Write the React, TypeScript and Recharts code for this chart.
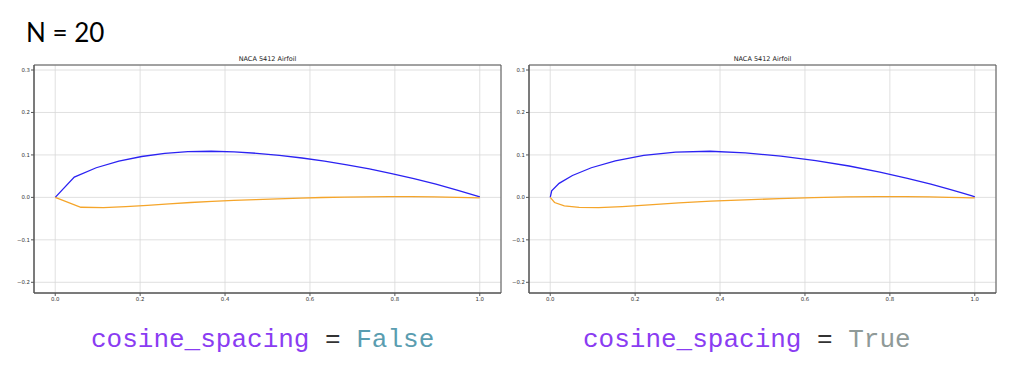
import { LineChart, Line, XAxis, YAxis, CartesianGrid, ReferenceArea } from "recharts";

// NACA 5412, N = 20 points per surface
const uniformUpper = [
  [0, 0], [0.0449, 0.0478], [0.0966, 0.0698], [0.1498, 0.0853], [0.2037, 0.0963],
  [0.2581, 0.1036], [0.3126, 0.1077], [0.3673, 0.1087], [0.4214, 0.1071], [0.4748, 0.1038],
  [0.5281, 0.099], [0.5813, 0.0928], [0.6343, 0.0854], [0.6872, 0.0768], [0.7399, 0.0671],
  [0.7924, 0.0562], [0.8447, 0.0441], [0.8968, 0.031], [0.9486, 0.0167], [1.0002, 0.0012],
];
const uniformLower = [
  [0, 0], [0.0603, -0.0232], [0.1139, -0.0241], [0.166, -0.0219], [0.2173, -0.0188],
  [0.2682, -0.0153], [0.3189, -0.0121], [0.3696, -0.0093], [0.4207, -0.0072], [0.4726, -0.0053],
  [0.5245, -0.0034], [0.5766, -0.0017], [0.6288, -0.0003], [0.6812, 0.0007], [0.7338, 0.0014],
  [0.7865, 0.0017], [0.8395, 0.0016], [0.8927, 0.001], [0.9461, 0.0001], [0.9998, -0.0012],
];
const cosineUpper = [
  [0, 0], [0.0034, 0.0155], [0.0209, 0.033], [0.0523, 0.0515], [0.0968, 0.0698],
  [0.1533, 0.0861], [0.2202, 0.0989], [0.2954, 0.1067], [0.3764, 0.1086], [0.4596, 0.1049],
  [0.5433, 0.0973], [0.6254, 0.0867], [0.7039, 0.0739], [0.7765, 0.0596], [0.8413, 0.045],
  [0.8966, 0.031], [0.9411, 0.0188], [0.9737, 0.0093], [0.9935, 0.0033], [1.0002, 0.0012],
];
const cosineLower = [
  [0, 0], [0.0102, -0.0121], [0.0332, -0.0199], [0.0682, -0.0237], [0.1141, -0.024],
  [0.1694, -0.0217], [0.2328, -0.0177], [0.3029, -0.0131], [0.3781, -0.009], [0.4578, -0.0058],
  [0.5393, -0.0029], [0.62, -0.0005], [0.6978, 0.001], [0.7705, 0.0017], [0.836, 0.0016],
  [0.8925, 0.001], [0.9383, 0.0002], [0.9721, -0.0005], [0.9928, -0.0011], [0.9998, -0.0012],
];

const xTicks = [0, 0.2, 0.4, 0.6, 0.8, 1.0];
const yTicks = [-0.2, -0.1, 0, 0.1, 0.2, 0.3];
const xDomain = [-0.05, 1.05];
const yDomain = [-0.2252, 0.3118];

const title = "NACA 5412 Airfoil";

const toPts = (arr: number[][]) => arr.map(([x, y]) => ({ x, y }));
const fmt = (v: number) => (v < 0 ? "\u2212" : "") + Math.abs(v).toFixed(1);

const tickStyle = { fontSize: 5.4, fill: "#333", fontFamily: "DejaVu Sans" };

interface plotProps {
  upper: number[][];
  lower: number[][];
  left: number;
}

const AirfoilPlot = ({ upper, lower, left }: plotProps) => {
  return (
    <div style={{ position: "absolute", left, top: 0, width: 510, height: 310 }}>
      <div
        style={{
          position: "absolute", left: 34, width: 467, top: 55, textAlign: "center",
          fontFamily: "DejaVu Sans", fontSize: 6.5, lineHeight: "8px", color: "#222",
        }}
      >
        {title}
      </div>
      <LineChart width={510} height={310} margin={{ top: 65, right: 9, bottom: 0, left: 0 }}>
        <CartesianGrid stroke="#d8d8d8" strokeWidth={0.8} />
        <XAxis
          type="number" dataKey="x" domain={xDomain} ticks={xTicks} allowDataOverflow
          height={17} tickSize={3} tickMargin={1} tickFormatter={fmt} tick={tickStyle}
          stroke="#555" interval={0}
        />
        <YAxis
          type="number" dataKey="y" domain={yDomain} ticks={yTicks} allowDataOverflow
          width={34} tickSize={3} tickMargin={1} tickFormatter={fmt} tick={tickStyle}
          stroke="#555" interval={0}
        />
        <ReferenceArea
          x1={xDomain[0]} x2={xDomain[1]} y1={yDomain[0]} y2={yDomain[1]}
          fill="none" stroke="#555" strokeWidth={1} ifOverflow="visible"
        />
        <Line data={toPts(upper)} dataKey="y" type="linear" stroke="#2b22f2" strokeWidth={1.3} dot={false} isAnimationActive={false} />
        <Line data={toPts(lower)} dataKey="y" type="linear" stroke="#f5a52a" strokeWidth={1.3} dot={false} isAnimationActive={false} />
      </LineChart>
    </div>
  );
};

const monoStyle = {
  position: "absolute" as const, top: 327, fontFamily: "Liberation Mono", fontSize: 26,
  lineHeight: "26px", whiteSpace: "pre" as const,
};

export default function App() {
  return (
    <div style={{ position: "absolute", left: 0, top: 0, width: 1023, height: 385, background: "#fff" }}>
      <div style={{ position: "absolute", left: 26, top: 19, fontFamily: "Lato", fontSize: 26, lineHeight: "26px", color: "#000" }}>
        N = 20
      </div>
      <AirfoilPlot upper={uniformUpper} lower={uniformLower} left={0} />
      <AirfoilPlot upper={cosineUpper} lower={cosineLower} left={495} />
      <div style={{ ...monoStyle, left: 91 }}>
        <span style={{ color: "#8a3cf2" }}>cosine_spacing</span>
        <span style={{ color: "#333" }}> = </span>
        <span style={{ color: "#5a9db0" }}>False</span>
      </div>
      <div style={{ ...monoStyle, left: 583 }}>
        <span style={{ color: "#8a3cf2" }}>cosine_spacing</span>
        <span style={{ color: "#333" }}> = </span>
        <span style={{ color: "#8f9a98" }}>True</span>
      </div>
    </div>
  );
}
